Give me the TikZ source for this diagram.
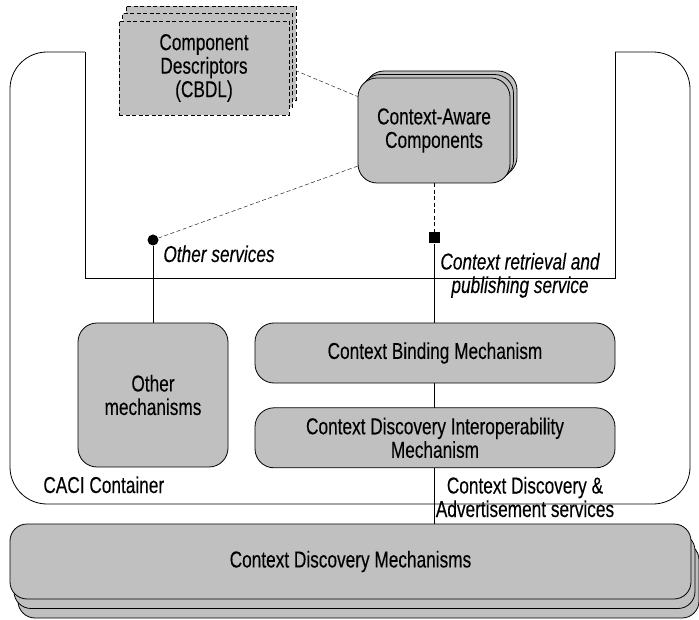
\documentclass[tikz,border=0pt]{standalone}
\usepackage{fontspec}
\setmainfont[FakeStretch=0.75, FakeBold=0.2]{Liberation Sans}
\usepackage{xcolor}
\usepackage{tikz}
\usetikzlibrary{positioning,shadows,backgrounds,calc}

\definecolor{boxgray}{HTML}{C0C0C0}
\newcommand{\diagfont}{\fontsize{23}{23.5}\selectfont}

\begin{document}
\begin{tikzpicture}[x=1pt, y=-1pt, font=\diagfont, line width=0.8pt,
    dashline/.style={dash pattern=on 4pt off 2.5pt},
    block/.style={draw, fill=boxgray, align=center, inner sep=0pt},
    rblock/.style={block, rounded corners=19pt},
    lbl/.style={align=center, inner sep=0pt}]
  \useasboundingbox (0,0) rectangle (699,620);

  % CACI container outline (notched at the top)
  \draw (615,52) -- (615,278) -- (85,278) -- (85,52);
  \draw[rounded corners=37pt] (85,52) -- (10,52) -- (10,504) -- (690,504) -- (690,52) -- (615,52);

  % components
  \node[block, dashline, minimum width=170pt, minimum height=94pt,
        double copy shadow={shadow xshift=3.5pt, shadow yshift=7.5pt, fill=boxgray, draw, line width=0.8pt, dashline}]
        (cd) at (204,68) {Component\\Descriptors\\(CBDL)};
  \node[rblock, minimum width=152pt, minimum height=105pt,
        double copy shadow={shadow xshift=3.5pt, shadow yshift=3.5pt, fill=boxgray, draw, line width=0.8pt}]
        (cac) at (434,130.5) {Context-Aware\\Components};

  % mechanisms inside the container
  \node[rblock, minimum width=150pt, minimum height=144pt] (om) at (153,395) {Other\\mechanisms};
  \node[rblock, minimum width=360pt, minimum height=60pt] (cbm) at (435,353) {Context Binding Mechanism};
  \node[rblock, minimum width=360pt, minimum height=60pt, below=24pt of cbm] (cdim)
        {Context Discovery Interoperability\\Mechanism};

  % discovery mechanisms below
  \node[rblock, rounded corners=17pt, minimum width=681pt, minimum height=75pt,
        double copy shadow={shadow xshift=4pt, shadow yshift=-9.5pt, fill=boxgray, draw, line width=0.8pt}]
        (cdm) at (350.5,561.5) {Context Discovery Mechanisms};

  % service ends
  \node[circle, fill, inner sep=0pt, minimum size=11pt] (dot) at (153,240) {};
  \node[fill, inner sep=0pt, minimum size=11pt] (sq) at (434,238) {};

  \begin{scope}[on background layer]
    \draw[dashline] (cd.east) -- (cac.156);
    \draw[dashline] (cac.205) -- (dot);
    \draw[dashline] (cac.south) -- (sq);
    \draw (dot) -- (om.north);
    \draw (sq) -- (sq |- cdm.north);
  \end{scope}

  % labels
  \node[lbl, anchor=base west, font=\diagfont\itshape] (osl) at (163,262) {Other services};
  \node[lbl, anchor=base, font=\diagfont\itshape] (crl) at (520,293) {Context retrieval and\\publishing service};
  \node[lbl, anchor=base west] (cacil) at (43,493) {CACI Container};
  \node[lbl, anchor=base] (cdal) at (525,517) {Context Discovery \&\\Advertisement services};
\end{tikzpicture}
\end{document}
